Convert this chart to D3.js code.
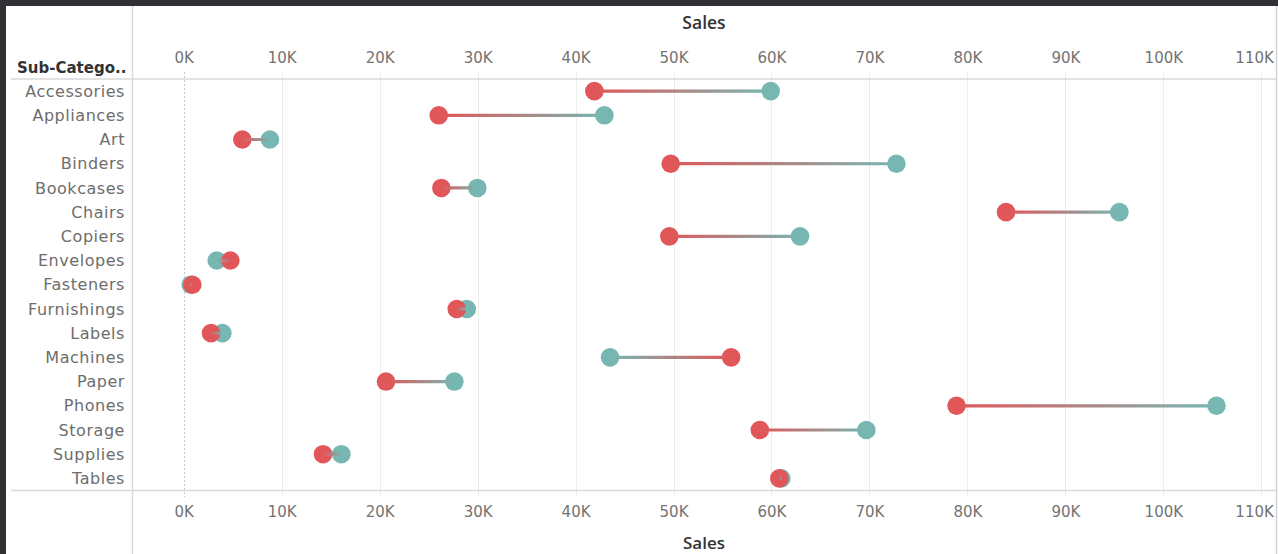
<!DOCTYPE html>
<html>
<head>
<meta charset="utf-8">
<script src="https://cdn.jsdelivr.net/npm/d3@7"></script>
<style>
  html, body { margin: 0; padding: 0; background: #ffffff; }
  svg { display: block; }
  text { font-family: "DejaVu Sans", "Noto Sans", sans-serif; }
</style>
</head>
<body>
<svg id="chart" width="1278" height="554"></svg>
<script>
// ---- data ----
const categories = ["Accessories","Appliances","Art","Binders","Bookcases","Chairs","Copiers","Envelopes","Fasteners","Furnishings","Labels","Machines","Paper","Phones","Storage","Supplies","Tables"];
// first series (red dots)
const salesFirst = [41920, 26030, 5980, 49710, 26300, 83940, 49570, 4760, 880, 27870, 2790, 55880, 20650, 78890, 58810, 14220, 60800];
// second series (teal dots)
const salesSecond = [59920, 42940, 8800, 72750, 29970, 95510, 62910, 3370, 710, 28890, 3940, 43520, 27630, 105420, 69680, 16090, 61000];
const tickValues = [0,10000,20000,30000,40000,50000,60000,70000,80000,90000,100000,110000];
const axisTitle = "Sales";
const rowHeader = "Sub-Catego..";

// ---- layout ----
const W = 1278, H = 554;
const plotLeft = 132, plotRight = 1276, plotTop = 79, plotBottom = 490.5;
const colorFirst = "#E15759", colorSecond = "#76B7B2";
const labelFont = "'DejaVu Sans', 'Noto Sans', sans-serif";

const svg = d3.select("#chart");

svg.append("rect").attr("x",0).attr("y",0).attr("width",W).attr("height",H).attr("fill","#ffffff");
svg.append("rect").attr("x",0).attr("y",0).attr("width",W).attr("height",6).attr("fill","#2f3134");
svg.append("rect").attr("x",0).attr("y",0).attr("width",6).attr("height",H).attr("fill","#2f3134");

const x = d3.scaleLinear().domain([-5280, 111500]).range([plotLeft, plotRight]);
const y = d3.scaleBand().domain(categories).range([plotTop, plotBottom]).padding(0);

// gridlines
const grid = svg.append("g");
grid.selectAll("line.g").data(tickValues.filter(d => d !== 0)).enter().append("line")
  .attr("x1", d => Math.round(x(d)) + 0.5).attr("x2", d => Math.round(x(d)) + 0.5)
  .attr("y1", 72).attr("y2", 497)
  .attr("stroke", "#ececec").attr("stroke-width", 1);
grid.append("line")
  .attr("x1", Math.round(x(0)) + 0.5).attr("x2", Math.round(x(0)) + 0.5)
  .attr("y1", 72).attr("y2", 497)
  .attr("stroke", "#c8c8c8").attr("stroke-width", 1).attr("stroke-dasharray", "2,2");

// separators
svg.append("line").attr("x1", 11).attr("x2", plotRight).attr("y1", plotTop).attr("y2", plotTop)
  .attr("stroke", "#d9d9d9").attr("stroke-width", 1.5);
svg.append("line").attr("x1", 11).attr("x2", plotRight).attr("y1", plotBottom).attr("y2", plotBottom)
  .attr("stroke", "#d9d9d9").attr("stroke-width", 1.5);
svg.append("line").attr("x1", plotLeft + 0.5).attr("x2", plotLeft + 0.5).attr("y1", 6).attr("y2", H)
  .attr("stroke", "#d9d9d9").attr("stroke-width", 1.5);
svg.append("line").attr("x1", plotRight + 0.5).attr("x2", plotRight + 0.5).attr("y1", 6).attr("y2", H)
  .attr("stroke", "#d4d4d4").attr("stroke-width", 1.5);

// axes
const fmt = d => (d / 1000) + "K";
function styleAxis(g) {
  g.select(".domain").remove();
  g.selectAll(".tick line").remove();
  g.selectAll(".tick text").attr("fill", "#737373").style("font-size", "15px")
    .style("font-family", labelFont);
  g.selectAll(".tick").filter(d => d === 110000).select("text")
    .attr("text-anchor", "end").attr("dx", 12);
}
const topAxis = svg.append("g").attr("transform", "translate(0,52)")
  .call(d3.axisTop(x).tickValues(tickValues).tickFormat(fmt).tickSize(0).tickPadding(0));
styleAxis(topAxis);
topAxis.selectAll(".tick text").attr("dy", "0.32em").attr("y", 6);
const bottomAxis = svg.append("g").attr("transform", "translate(0,506)")
  .call(d3.axisBottom(x).tickValues(tickValues).tickFormat(fmt).tickSize(0).tickPadding(0));
styleAxis(bottomAxis);
bottomAxis.selectAll(".tick text").attr("dy", "0.32em").attr("y", 6);

// axis titles
const midX = (plotLeft + plotRight) / 2;
svg.append("text").attr("x", midX).attr("y", 29).attr("text-anchor", "middle")
  .attr("fill", "#333333").style("font-size", "17.5px").style("font-weight", "600")
  .style("font-family", "'Open Sans', sans-serif").text(axisTitle);
svg.append("text").attr("x", midX).attr("y", 549).attr("text-anchor", "middle")
  .attr("fill", "#333333").style("font-size", "17px").style("font-weight", "600")
  .style("font-family", "'Open Sans', sans-serif").text(axisTitle);

// row header
svg.append("text").attr("x", 17).attr("y", 73).attr("fill", "#333333")
  .style("font-size", "15px").style("font-weight", "700").text(rowHeader);

// row labels
svg.append("g").selectAll("text").data(categories).enter().append("text")
  .attr("x", 125).attr("y", d => y(d) + y.bandwidth() / 2).attr("dy", "0.35em")
  .attr("text-anchor", "end").attr("fill", "#6d6d6d").style("font-size", "16px")
  .style("letter-spacing", "0.55px")
  .text(d => d);

// marks
const rows = categories.map((c, i) => ({ cat: c, a: salesFirst[i], b: salesSecond[i], i }));
const defs = svg.append("defs");
rows.forEach(r => {
  const g = defs.append("linearGradient").attr("id", "grad" + r.i)
    .attr("gradientUnits", "userSpaceOnUse")
    .attr("x1", x(r.a)).attr("x2", x(r.b)).attr("y1", 0).attr("y2", 0);
  g.append("stop").attr("offset", "0%").attr("stop-color", colorFirst);
  g.append("stop").attr("offset", "100%").attr("stop-color", colorSecond);
});
const cy = d => y(d.cat) + y.bandwidth() / 2;
const marks = svg.append("g");
marks.selectAll("circle.b").data(rows).enter().append("circle")
  .attr("cx", d => x(d.b)).attr("cy", cy).attr("r", 9.3).attr("fill", colorSecond);
marks.selectAll("circle.a").data(rows).enter().append("circle")
  .attr("cx", d => x(d.a)).attr("cy", cy).attr("r", 9.3).attr("fill", colorFirst);
marks.selectAll("line.link").data(rows).enter().append("line")
  .attr("x1", d => x(d.a)).attr("x2", d => x(d.b))
  .attr("y1", cy).attr("y2", d => cy(d) + 0.01)
  .attr("stroke", d => "url(#grad" + d.i + ")").attr("stroke-width", 3.2);
</script>
</body>
</html>
